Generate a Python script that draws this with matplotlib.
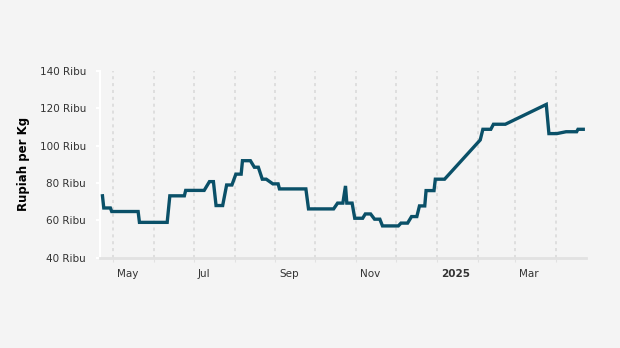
import matplotlib
matplotlib.use("Agg")
import matplotlib.pyplot as plt
import matplotlib.dates as mdates
import matplotlib.transforms as mtransforms
import pandas as pd

# tanggal dan harga (ribu rupiah per kg)
tanggal = [
    "2024-04-23", "2024-04-24", "2024-04-29", "2024-04-30", "2024-05-20", "2024-05-21",
    "2024-06-11", "2024-06-13", "2024-06-24", "2024-06-25", "2024-07-09", "2024-07-13",
    "2024-07-16", "2024-07-18", "2024-07-23", "2024-07-26", "2024-07-30", "2024-08-02",
    "2024-08-06", "2024-08-07", "2024-08-13", "2024-08-16", "2024-08-19", "2024-08-22",
    "2024-08-25", "2024-08-30", "2024-09-03", "2024-09-04", "2024-09-24", "2024-09-26",
    "2024-10-15", "2024-10-18", "2024-10-22", "2024-10-24", "2024-10-25", "2024-10-29",
    "2024-10-31", "2024-11-06", "2024-11-08", "2024-11-12", "2024-11-15", "2024-11-19",
    "2024-11-21", "2024-12-03", "2024-12-05", "2024-12-10", "2024-12-13", "2024-12-17",
    "2024-12-19", "2024-12-23", "2024-12-24", "2024-12-30", "2024-12-31", "2025-01-07",
    "2025-02-03", "2025-02-05", "2025-02-11", "2025-02-13", "2025-02-22", "2025-03-25",
    "2025-03-27", "2025-04-02", "2025-04-09", "2025-04-17", "2025-04-18", "2025-04-22",
]
harga = [
    73.2, 66.7, 66.7, 64.8, 64.8, 59.0,
    59.0, 73.2, 73.2, 76.1, 76.1, 80.8,
    80.8, 68.0, 68.0, 79.0, 79.0, 84.8,
    84.8, 92.0, 92.0, 88.5, 88.5, 82.1,
    82.1, 79.6, 79.6, 76.9, 76.9, 66.2,
    66.2, 69.3, 69.3, 78.5, 69.3, 69.3,
    61.2, 61.2, 63.5, 63.5, 60.7, 60.7,
    57.1, 57.1, 58.6, 58.6, 62.1, 62.1,
    67.8, 67.8, 76.0, 76.0, 82.1, 82.1,
    103.1, 108.8, 108.8, 111.5, 111.5, 122.1,
    106.5, 106.5, 107.5, 107.5, 108.8, 108.8,
]

bulan = pd.date_range("2024-05-01", "2025-04-01", freq="MS")
label_bulan = ["May", "", "Jul", "", "Sep", "", "Nov", "", "2025", "", "Mar", ""]
y_ticks = [40, 60, 80, 100, 120, 140]

bg = "#f4f4f4"
fig = plt.figure(figsize=(6.2, 3.48), dpi=100, facecolor=bg)
ax = fig.add_axes([0.161, 0.259, 0.784, 0.537], facecolor=bg)

x = pd.to_datetime(tanggal)
ax.plot(x, harga, color="#0a5068", linewidth=2.4, solid_joinstyle="miter", zorder=3)

ax.set_xlim(pd.Timestamp("2024-04-21"), pd.Timestamp("2025-04-24"))
ax.set_ylim(40, 140)

for b in bulan:
    ax.axvline(b, color="#d8d8d8", linewidth=1.1, linestyle=(0, (2, 2.5)), zorder=1)

ax.set_xticks(bulan)
ax.set_xticklabels(label_bulan)
ax.tick_params(axis="x", length=3, color="#e2e2e2", pad=5, labelsize=7.5, labelcolor="#333333")
offset = mtransforms.ScaledTranslation(3 / 72, 0, fig.dpi_scale_trans)
for lbl in ax.get_xticklabels():
    lbl.set_horizontalalignment("left")
    lbl.set_transform(lbl.get_transform() + offset)
    if lbl.get_text() == "2025":
        lbl.set_fontweight("bold")

ax.set_yticks(y_ticks)
ax.set_yticklabels(["%d Ribu" % v for v in y_ticks])
ax.tick_params(axis="y", length=3, width=1.5, color="white", pad=7, labelsize=7.5, labelcolor="#333333")
ax.set_ylabel("Rupiah per Kg", fontsize=8.5, fontweight="bold", labelpad=7)

for s in ["top", "right"]:
    ax.spines[s].set_visible(False)
ax.spines["left"].set_color("white")
ax.spines["left"].set_linewidth(1.5)
ax.spines["bottom"].set_color("#e2e2e2")
ax.spines["bottom"].set_linewidth(2)

fig.savefig("out.png", dpi=100, facecolor=bg)
